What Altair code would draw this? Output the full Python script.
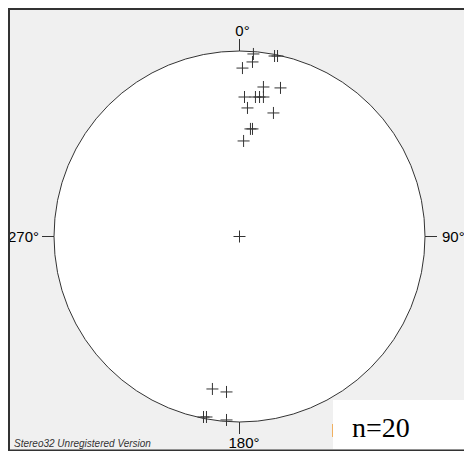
import math
import altair as alt
import pandas as pd

east = [0.075, 0.189, 0.205, 0.070, 0.016, 0.129, 0.221, 0.027, 0.086, 0.108, 0.129,
        0.043, 0.183, 0.059, 0.070, 0.022, 0.000, -0.146, -0.070, -0.194, -0.178, -0.070]
north = [0.984, 0.973, 0.973, 0.941, 0.908, 0.806, 0.801, 0.752, 0.752, 0.752, 0.752,
         0.693, 0.666, 0.580, 0.580, 0.515, 0.000, -0.822, -0.838, -0.973, -0.973, -0.989]

directions = [0, 90, 180, 270]
dir_labels = ["0°", "90°", "180°", "270°"]
n_label = "n=20"
footer = "Stereo32  Unregistered Version"

W, H = 456, 443
R = 185.5              # primitive circle radius in px
CX, CY = 231.5, 228.5  # circle centre inside the chart, px
TICK = 12 / R

xs = alt.Scale(domain=[-CX / R, (W - CX) / R], nice=False, zero=False)
ys = alt.Scale(domain=[-(H - CY) / R, CY / R], nice=False, zero=False)


def X(f):
    return alt.X(f, type="quantitative", scale=xs, axis=None)


def Y(f):
    return alt.Y(f, type="quantitative", scale=ys, axis=None)


pts = pd.DataFrame({"e": east, "n": north})
ticks = pd.DataFrame({
    "dir": directions,
    "label": dir_labels,
    "x1": [math.sin(math.radians(d)) for d in directions],
    "y1": [math.cos(math.radians(d)) for d in directions],
    "x2": [(1 + TICK) * math.sin(math.radians(d)) for d in directions],
    "y2": [(1 + TICK) * math.cos(math.radians(d)) for d in directions],
})
one = pd.DataFrame({"e": [0.0], "n": [0.0]})

box = alt.Chart(one).mark_rect(fill="white").encode(
    x=alt.value(325), x2=alt.value(W), y=alt.value(392), y2=alt.value(441))
sliver = alt.Chart(one).mark_rule(color="#f0b060", strokeWidth=1).encode(
    x=alt.value(324.5), y=alt.value(416), y2=alt.value(429))

circle = alt.Chart(one).mark_point(
    shape="circle", size=(2 * R) ** 2, filled=True, fill="white", stroke="#333333",
    strokeWidth=1, opacity=1, fillOpacity=1, strokeOpacity=1
).encode(x=X("e"), y=Y("n"))

tick_rules = alt.Chart(ticks).mark_rule(color="#333333", strokeWidth=1).encode(
    x=X("x1"), y=Y("y1"), x2="x2", y2="y2")

font = "Liberation Sans"
lab_specs = {
    0: dict(align="center", dx=3, dy=-3.5),
    90: dict(align="left", dx=5, dy=5),
    180: dict(align="center", dx=4.5, dy=14),
    270: dict(align="right", dx=-3, dy=5),
}
labels = []
for d, spec in lab_specs.items():
    labels.append(
        alt.Chart(ticks).transform_filter(alt.datum.dir == d).mark_text(
            font=font, fontSize=15, color="#000000", baseline="alphabetic", **spec
        ).encode(x=X("x2"), y=Y("y2"), text="label:N")
    )

crosses = alt.Chart(pts).mark_point(
    shape="M-1,0H1M0,-1V1", size=144, filled=False, stroke="#333333",
    strokeWidth=1, opacity=1
).encode(x=X("e"), y=Y("n"))

ntext = alt.Chart(one).mark_text(
    font="Liberation Serif", fontSize=28, color="#000000", align="left", baseline="alphabetic"
).encode(x=alt.value(344), y=alt.value(429), text=alt.value(n_label))

foot = alt.Chart(one).mark_text(
    font=font, fontSize=10, fontStyle="italic", color="#333333", align="left",
    baseline="alphabetic"
).encode(x=alt.value(6), y=alt.value(439), text=alt.value(footer))

border_left = alt.Chart(one).mark_rule(color="#333333", strokeWidth=2).encode(
    x=alt.value(1), y=alt.value(0), y2=alt.value(H))
border_top = alt.Chart(one).mark_rule(color="#333333", strokeWidth=2).encode(
    x=alt.value(0), x2=alt.value(W), y=alt.value(1))
border_bottom = alt.Chart(one).mark_rule(color="#333333", strokeWidth=1.5).encode(
    x=alt.value(0), x2=alt.value(W), y=alt.value(442.2))

chart = alt.layer(
    box, sliver, circle, tick_rules, *labels, crosses, ntext, foot,
    border_left, border_top, border_bottom
).properties(
    width=W, height=H, padding=0,
    autosize=alt.AutoSizeParams(type="none"),
    background="#f0f0f0",
).configure_view(stroke=None)

chart.save("out.html", embed_options={"renderer": "svg", "actions": False})
